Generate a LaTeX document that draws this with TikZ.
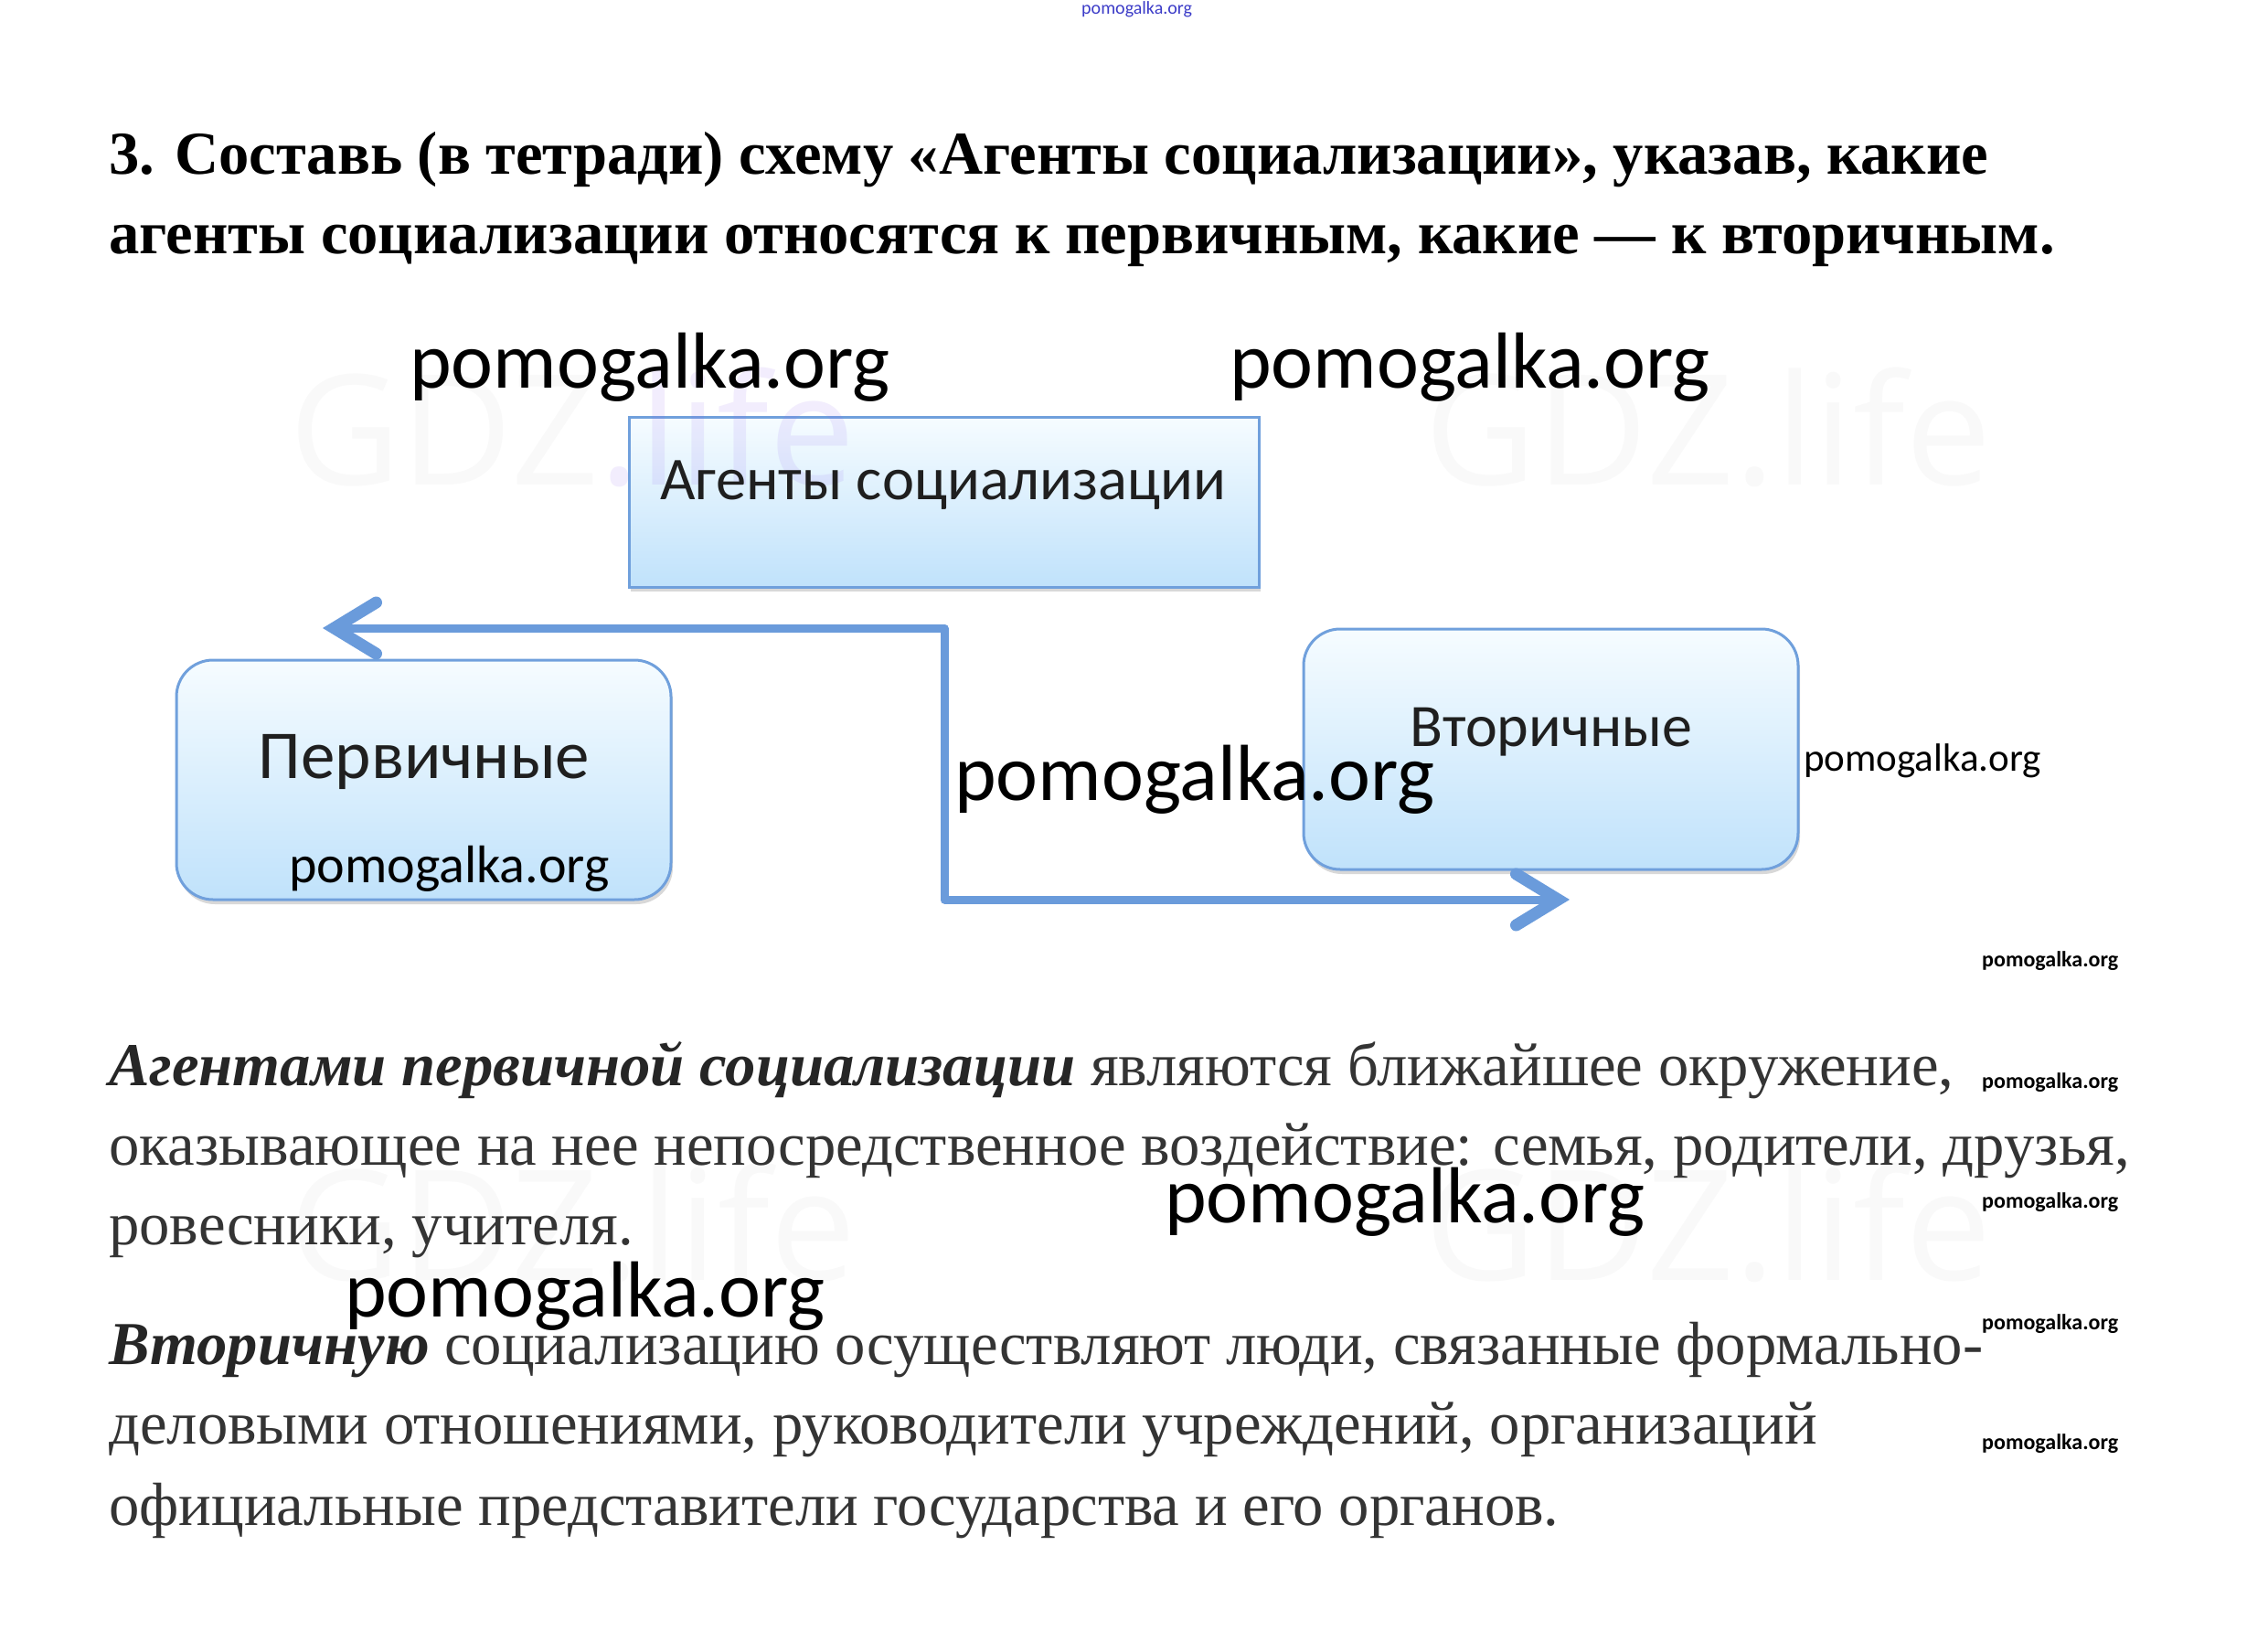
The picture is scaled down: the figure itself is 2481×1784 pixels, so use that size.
\documentclass[tikz,border=0pt]{standalone}
\usepackage{fontspec}
\setmainfont{Liberation Serif}
\newfontfamily\boxfont{Carlito}
\newfontfamily\wmfont{Open Sans}
\usetikzlibrary{arrows.meta,shadows}
\definecolor{boxedge}{RGB}{112,160,220}
\definecolor{boxtop}{RGB}{246,252,255}
\definecolor{boxbot}{RGB}{192,226,251}
\definecolor{arrowblue}{RGB}{106,155,219}
\definecolor{bodygray}{RGB}{52,52,52}
\definecolor{lifepurple}{RGB}{150,110,240}
\tikzset{
  boxbase/.style={draw=boxedge, line width=3pt, top color=boxtop, bottom color=boxbot,
    drop shadow={shadow xshift=2pt, shadow yshift=-5pt, opacity=0.25, fill=black!60}},
  sqbox/.style={boxbase, rectangle},
  rbox/.style={boxbase, rectangle, rounded corners=40pt},
  conn/.style={draw=arrowblue, line width=9pt, line join=round,
    {Straight Barb[length=46pt, width=56pt, line width=13pt, line cap=round]}-{Straight Barb[length=46pt, width=56pt, line width=13pt, line cap=round]}},
  titletext/.style={anchor=base west, inner sep=0pt, font=\fontsize{66.6}{80}\selectfont\bfseries},
  bodytext/.style={anchor=base west, inner sep=0pt, text=bodygray, font=\fontsize{66.7}{80}\selectfont},
  boxlabel/.style={anchor=base, inner sep=0pt, text=black!88, font=\boxfont},
  wmbig/.style={anchor=base west, inner sep=0pt, font=\boxfont\fontsize{87}{100}\selectfont},
  wmmid/.style={anchor=base west, inner sep=0pt, font=\boxfont\fontsize{58}{68}\selectfont},
  wmsm/.style={anchor=base west, inner sep=0pt, font=\boxfont\fontsize{43}{52}\selectfont},
  wmtiny/.style={anchor=base west, inner sep=0pt, font=\boxfont\bfseries\fontsize{24}{30}\selectfont},
  gdz/.style={anchor=base west, inner sep=0pt, opacity=0.025, font=\wmfont\fontsize{168}{190}\selectfont},
}
\begin{document}
\begin{tikzpicture}[x=1pt,y=-1pt]
\useasboundingbox[fill=white] (0,0) rectangle (2481,1784);

% top small watermark
\node[anchor=base west, inner sep=0pt, text={rgb,255:red,60;green,60;blue,200}, font=\boxfont\fontsize{20}{24}\selectfont] (wtop) at (1183,16) {pomogalka.org};

% title
\node[titletext] (t1) at (119,191) {3. Составь (в тетради) схему «Агенты социализации», указав, какие};
\node[titletext] (t2) at (119,278) {агенты социализации относятся к первичным, какие — к вторичным.};

% boxes
\node[sqbox, minimum width=689pt, minimum height=186pt] (agents) at (1032.5,549) {};
\node[rbox, minimum width=541pt, minimum height=262pt] (prim) at (463.5,853) {};
\node[rbox, minimum width=541pt, minimum height=263pt] (sec) at (1696.5,819.5) {};

% faint GDZ.life watermarks
\node[gdz] (g1) at (316,530) {GDZ\textcolor{lifepurple}{\pgfsetfillopacity{0.12}.life}};
\node[gdz] (g2) at (1558,530) {GDZ.life};
\node[gdz] (g3) at (316,1400) {GDZ.life};
\node[gdz] (g4) at (1558,1400) {GDZ.life};

\node[boxlabel, font=\boxfont\fontsize{66.5}{78}\selectfont] (agentsl) at (1032,546) {Агенты социализации};
\node[boxlabel, font=\boxfont\fontsize{75}{88}\selectfont] (priml) at (464,851) {Первичные};
\node[boxlabel, font=\boxfont\fontsize{66}{78}\selectfont] (secl) at (1697,816) {Вторичные};

% connector
\coordinate (aL) at (353,687);
\coordinate (c1) at (1033,687);
\coordinate (c2) at (1033,984);
\coordinate (aR) at (1717,984);
\draw[conn] (aL) -- (c1) -- (c2) -- (aR);

% pomogalka watermarks
\node[wmbig] (w1) at (448,424) {pomogalka.org};
\node[wmbig] (w2) at (1345,424) {pomogalka.org};
\node[wmbig] (w3) at (1044,875) {pomogalka.org};
\node[wmmid] (w4) at (316,965) {pomogalka.org};
\node[wmsm] (w5) at (1973,843) {pomogalka.org};
\node[wmtiny] (s1) at (2168,1057) {pomogalka.org};
\node[wmtiny] (s2) at (2168,1190) {pomogalka.org};
\node[wmtiny] (s3) at (2168,1321) {pomogalka.org};
\node[wmtiny] (s4) at (2168,1454) {pomogalka.org};
\node[wmtiny] (s5) at (2168,1585) {pomogalka.org};

% body text
\node[bodytext] (b1) at (119,1187) {\textcolor{black!85}{\bfseries\itshape Агентами первичной социализации} являются ближайшее окружение,};
\node[bodytext] (b2) at (119,1274) {оказывающее на нее непосредственное воздействие: семья, родители, друзья,};
\node[bodytext] (b3) at (119,1361) {ровесники, учителя.};
\node[bodytext] (b4) at (119,1492) {\textcolor{black!85}{\bfseries\itshape Вторичную} социализацию осуществляют люди, связанные формально-};
\node[bodytext] (b5) at (119,1579) {деловыми отношениями, руководители учреждений, организаций};
\node[bodytext] (b6) at (119,1668) {официальные представители государства и его органов.};

\node[wmbig] (w6) at (1274,1337) {pomogalka.org};
\node[wmbig] (w7) at (377,1440) {pomogalka.org};
\end{tikzpicture}
\end{document}
